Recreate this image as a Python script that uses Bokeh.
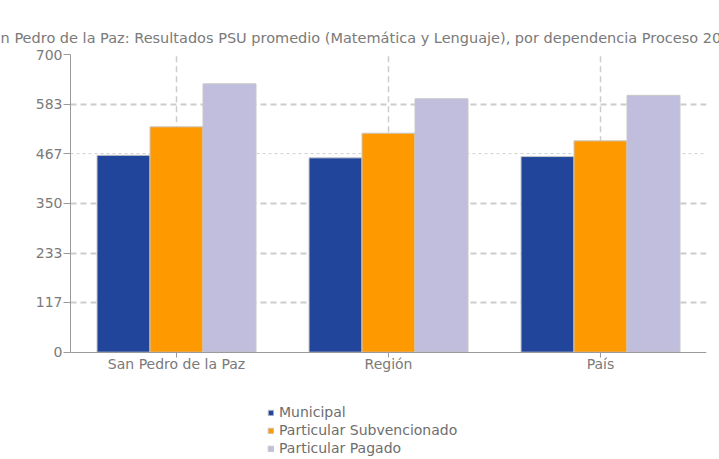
from bokeh.plotting import figure
from bokeh.models import (FactorRange, Range1d, FixedTicker, Legend, LegendItem,
                          Span, ColumnDataSource, Title)
from bokeh.transform import dodge
from bokeh.embed import file_html
from bokeh.resources import INLINE

categories = ["San Pedro de la Paz", "Región", "País"]
series_names = ["Municipal", "Particular Subvencionado", "Particular Pagado"]
municipal = [463, 457, 460]
subvencionado = [530, 515, 497]
pagado = [631, 596, 604]
y_ticks = [0, 117, 233, 350, 467, 583, 700]
colors = ["#21459b", "#ff9900", "#c1bddd"]
title_text = ("San Pedro de la Paz: Resultados PSU promedio (Matemática y Lenguaje), "
              "por dependencia Proceso 2011")

FONT = "DejaVu Sans"
TEXT_GRAY = "#7a7a7a"
AXIS_GRAY = "#9a9a9a"

W, H = 719, 459
TOP, LEFT, RIGHT = 54, 70, 13
VALUE_AXIS_PX = 297.7          # pixel height of the 0..700 value span
frame_h = H - TOP
y_hi = y_ticks[-1]
y_lo = y_hi - (y_ticks[-1] - y_ticks[0]) * frame_h / VALUE_AXIS_PX

src = ColumnDataSource(dict(cat=categories, municipal=municipal,
                            subvencionado=subvencionado, pagado=pagado,
                            lo=[y_ticks[0]] * len(categories),
                            hi=[y_ticks[-1]] * len(categories)))

p = figure(x_range=FactorRange(*categories), y_range=Range1d(y_lo, y_hi),
           width=W, height=H, output_backend="svg", toolbar_location=None,
           min_border_left=LEFT, min_border_right=RIGHT, min_border_top=TOP,
           min_border_bottom=0)
p.outline_line_color = None
p.background_fill_color = "white"

# invisible spacer panel next to the frame, then the title itself further out
spacer = Title(text="x", text_font=FONT, text_font_size="10px", text_alpha=0, standoff=4)
p.add_layout(spacer, "above")
main_title = Title(text=title_text, align="left", offset=-88,
                   text_font=FONT, text_font_size="14.5px", text_font_style="normal",
                   text_color=TEXT_GRAY, standoff=17)
p.add_layout(main_title, "above")

# grid
p.xgrid.visible = False
p.segment(x0="cat", x1="cat", y0="lo", y1="hi", source=src,
          line_color="#cccccc", line_dash="6 4", line_width=1.5)
p.ygrid.ticker = FixedTicker(ticks=[t for t in y_ticks[1:-1] if t != y_ticks[4]])
p.ygrid.grid_line_color = "#cccccc"
p.ygrid.grid_line_dash = "6 4"
p.ygrid.grid_line_width = 2
dotted = Span(location=y_ticks[4], dimension="width", line_color="#d0d0d0",
              line_width=1, line_dash="3 3", level="underlay")
p.add_layout(dotted)

# bars
keys = ["municipal", "subvencionado", "pagado"]
offsets = [-0.25, 0.0, 0.25]
renderers = []
for k, off, c in zip(keys, offsets, colors):
    r = p.vbar(x=dodge("cat", off, range=p.x_range), top=k, width=0.25, bottom=0,
               source=src, fill_color=c, line_color="#c8c8c8", line_width=1)
    renderers.append(r)

# axes
p.yaxis.ticker = FixedTicker(ticks=y_ticks)
p.yaxis.bounds = (y_ticks[0], y_ticks[-1])
p.xaxis.fixed_location = y_ticks[0]
for ax in (p.xaxis, p.yaxis):
    ax.axis_line_color = AXIS_GRAY
    ax.major_tick_line_color = AXIS_GRAY
    ax.minor_tick_line_color = None
    ax.major_tick_in = 0
    ax.major_label_text_font = FONT
    ax.major_label_text_font_size = "14px"
    ax.major_label_text_color = TEXT_GRAY
p.yaxis.major_tick_out = 7
p.yaxis.major_label_standoff = 1
p.xaxis.major_tick_out = 5
p.xaxis.major_label_standoff = -1

legend = Legend(items=[LegendItem(label=n, renderers=[r]) for n, r in zip(series_names, renderers)],
                location=(197, 3), orientation="vertical",
                glyph_width=7, glyph_height=7, label_height=15, label_standoff=5,
                spacing=2, padding=0, margin=0,
                border_line_color=None, background_fill_alpha=0,
                label_text_font=FONT, label_text_font_size="14px",
                label_text_color="#6e6e6e")
p.add_layout(legend, "center")

open("out.html", "w").write(file_html(p, INLINE))
